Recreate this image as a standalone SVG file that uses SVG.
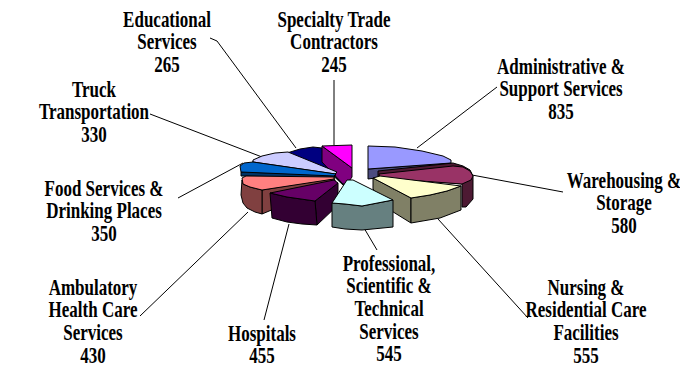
<svg xmlns="http://www.w3.org/2000/svg" width="680" height="369" viewBox="0 0 680 369">
<style>
.f{stroke:#000;stroke-width:1;stroke-linejoin:round}
.lbl{font-family:"Liberation Serif","Times New Roman",serif;font-weight:bold;font-size:17px;fill:#000;text-anchor:middle}
.ln{stroke:#000;stroke-width:1;fill:none}
</style>
<rect width="680" height="369" fill="#fff"/>
<g id="connectors">
<polyline class="ln" points="210,38 217,41 296,148"/>
<line class="ln" x1="334" y1="80" x2="334" y2="145"/>
<line class="ln" x1="497" y1="87" x2="417" y2="148"/>
<line class="ln" x1="472" y1="175" x2="563" y2="192"/>
<line class="ln" x1="438" y1="219" x2="528" y2="318"/>
<line class="ln" x1="364" y1="228" x2="377" y2="250"/>
<line class="ln" x1="289" y1="224" x2="264" y2="320"/>
<line class="ln" x1="248" y1="212" x2="140" y2="316"/>
<line class="ln" x1="243" y1="163" x2="178" y2="198"/>
<line class="ln" x1="150" y1="114" x2="262" y2="157"/>
</g>
<g id="slice-educational">
<polygon class="f" fill="#000040" points="322,148 322,165 344,186 344,180"/>
<polygon class="f" fill="#000080" points="287,153 300,149 313,147 322,148 344,180 336,174"/>
</g>
<g id="slice-specialty">
<polygon class="f" fill="#800080" points="322,146 352,168 352,177 347,184 343,184 322,162"/>
<polygon class="f" fill="#FF00FF" points="322,146 352,145 352,168"/>
</g>
<g id="slice-truck">
<polygon class="f" fill="#666680" points="253,161 336,173 335,176 253,164"/>
<polygon class="f" fill="#CCCCFF" points="253,160 262,156 275,153 288,152 337,172 335,174 253,162"/>
</g>
<g id="slice-food">
<polygon class="f" fill="#003366" points="241,172 335,175 334,178 241,176"/>
<polygon class="f" fill="#0066CC" points="240,166 244,163 253,162 336,174 334,176 241,172"/>
</g>
<g id="slice-ambulatory">
<polygon class="f" fill="#804040" points="262,190 334,178 336,183 262,214"/>
<polygon class="f" fill="#804040" points="242,180 243,184 250,187 262,190 262,214 255,212 247,208 243,203 241,195"/>
<polygon class="f" fill="#FF8080" points="242,178 246,176 334,177 334,179 262,190 250,187 243,184"/>
</g>
<g id="slice-hospitals">
<polygon class="f" fill="#330033" points="315,201 338,183 338,205 317,225"/>
<polygon class="f" fill="#330033" points="270,193 287,197 315,201 317,225 302,224 287,222 272,218"/>
<polygon class="f" fill="#660066" points="270,193 334,180 338,183 315,201 287,197"/>
</g>
<g id="slice-administrative">
<polygon class="f" fill="#4C4C80" points="368,169 451,163 451,168 368,179"/>
<polygon class="f" fill="#9999FF" points="368,146 395,147 422,151 443,156 451,160 451,163 368,169"/>
</g>
<g id="slice-warehousing">
<polygon class="f" fill="#4D1A33" points="378,171 453,163 463,166 470,170 473,176 473,199 466,207 462,207 462,184 378,177"/>
<polygon class="f" fill="#993366" points="379,174 453,166 463,167 470,171 473,176 471,180 462,184 380,178"/>
</g>
<g id="slice-nursing">
<polygon class="f" fill="#808066" points="373,178 411,198 411,223 390,210 373,189"/>
<polygon class="f" fill="#808066" points="411,198 430,195 447,191 461,186 461,210 440,218 411,223"/>
<polygon class="f" fill="#FFFFCC" points="373,178 380,176 461,186 447,191 430,195 411,198"/>
</g>
<g id="slice-professional">
<polygon class="f" fill="#668080" points="332,203 345,204 362,206 393,200 393,227 362,230 345,229 332,227"/>
<polygon class="f" fill="#CCFFFF" points="347,180 353,180 393,200 362,206 345,204 332,203"/>
</g>
<g id="label-educational" transform="translate(167,26.5) scale(1,1.3)" class="lbl">
<text y="0">Educational</text><text y="17.46">Services</text><text y="34.92">265</text>
</g>
<g id="label-specialty" transform="translate(334,26.5) scale(1,1.3)" class="lbl">
<text y="0">Specialty Trade</text><text y="17.46">Contractors</text><text y="34.92">245</text>
</g>
<g id="label-administrative" transform="translate(561,73.5) scale(1,1.3)" class="lbl">
<text y="0">Administrative &amp;</text><text y="17.46">Support Services</text><text y="34.92">835</text>
</g>
<g id="label-warehousing" transform="translate(624,187.5) scale(1,1.3)" class="lbl">
<text y="0">Warehousing &amp;</text><text y="17.46">Storage</text><text y="34.92">580</text>
</g>
<g id="label-nursing" transform="translate(586,294.5) scale(1,1.3)" class="lbl">
<text y="0">Nursing &amp;</text><text y="17.46">Residential Care</text><text y="34.92">Facilities</text><text y="52.38">555</text>
</g>
<g id="label-professional" transform="translate(389,270.5) scale(1,1.3)" class="lbl">
<text y="0">Professional,</text><text y="17.46">Scientific &amp;</text><text y="34.92">Technical</text><text y="52.38">Services</text><text y="69.84">545</text>
</g>
<g id="label-hospitals" transform="translate(262,340.5) scale(1,1.3)" class="lbl">
<text y="0">Hospitals</text><text y="17.46">455</text>
</g>
<g id="label-ambulatory" transform="translate(93,294.5) scale(1,1.3)" class="lbl">
<text y="0">Ambulatory</text><text y="17.46">Health Care</text><text y="34.92">Services</text><text y="52.38">430</text>
</g>
<g id="label-food" transform="translate(104,195.5) scale(1,1.3)" class="lbl">
<text y="0">Food Services &amp;</text><text y="17.46">Drinking Places</text><text y="34.92">350</text>
</g>
<g id="label-truck" transform="translate(94,96.5) scale(1,1.3)" class="lbl">
<text y="0">Truck</text><text y="17.46">Transportation</text><text y="34.92">330</text>
</g>
</svg>
